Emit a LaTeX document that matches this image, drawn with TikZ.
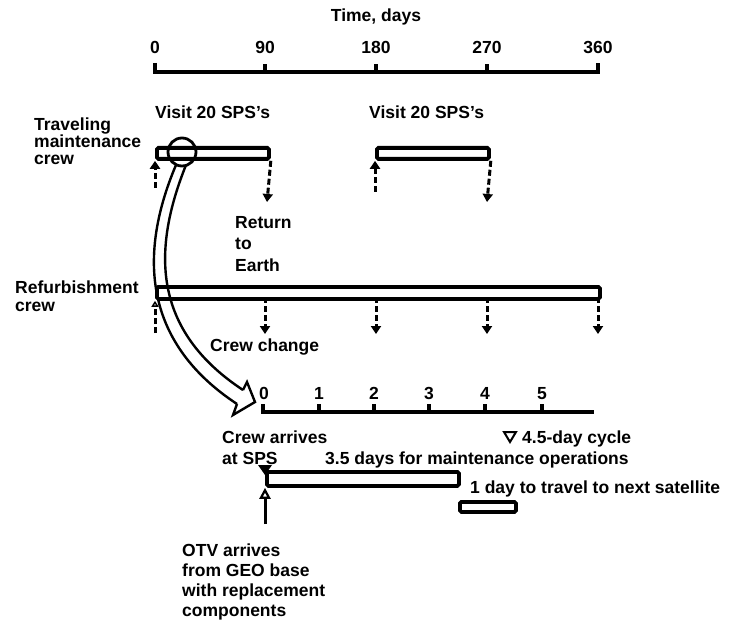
\documentclass[tikz,border=0pt]{standalone}
\usepackage{fontspec}
\setmainfont{Liberation Sans}
\usetikzlibrary{arrows.meta}
\tikzset{
 lbl/.style={font=\bfseries\fontsize{17.5}{19}\selectfont, inner sep=0pt, anchor=base west},
 lblc/.style={font=\bfseries\fontsize{17.5}{19}\selectfont, inner sep=0pt, anchor=base},
 bar/.style={draw, line width=3.8pt, rounded corners=1.5, inner sep=0pt, anchor=north west},
 dsh/.style={line width=3pt, dash pattern=on 6pt off 3pt},
 ax/.style={line width=3.2pt},
 tipf/.style={-{Triangle[length=8pt,width=10pt]}},
}
\begin{document}
\begin{tikzpicture}[x=1pt,y=-1pt]
\useasboundingbox (0,0) rectangle (738,628);
% top axis
\node[lblc] (tt) at (376,22) {Time, days};
\draw[ax] (155,63) -- (155,72) -- (598,72) -- (598,63);
\foreach \x in {265,376,487} \draw[ax] (\x,72) -- (\x,64);
\node[lblc] (a0) at (155,54) {0};
\node[lblc] (a90) at (265,54) {90};
\node[lblc] (a180) at (376,54) {180};
\node[lblc] (a270) at (487,54) {270};
\node[lblc] (a360) at (598,54) {360};
% traveling crew
\node[lbl] (tr1) at (34,131) {Traveling};
\node[lbl] (tr2) at (34,148) {maintenance};
\node[lbl] (tr3) at (34,165) {crew};
\node[lbl] (v1) at (155,119) {Visit 20 SPS's};
\node[lbl] (v2) at (369,119) {Visit 20 SPS's};
\node[bar, minimum width=112pt, minimum height=11pt] (t1) at (155,146) {};
\node[bar, minimum width=112pt, minimum height=11pt] (t2) at (375,146) {};
\coordinate (t1a) at (155,188);
\coordinate (t1b) at (267,202);
\coordinate (t2a) at (375,192);
\coordinate (t2b) at (487,202);
\draw[dsh, tipf] (t1a) -- (t1.south west);
\draw[dsh, tipf] (t1.south east) -- (t1b);
\draw[dsh, tipf] (t2a) -- (t2.south west);
\draw[dsh, tipf] (t2.south east) -- (t2b);
\node[lbl] (r1) at (235,229) {Return};
\node[lbl] (r2) at (235,250) {to};
\node[lbl] (r3) at (235,271) {Earth};
% refurbishment crew
\node[lbl] (rf1) at (15,293) {Refurbishment};
\node[lbl] (rf2) at (15,311) {crew};
\node[bar, minimum width=443pt, minimum height=12pt] (rb) at (155,285) {};
\foreach \x/\n in {265/a,376/b,487/c,598/d} {
  \coordinate (rb\n) at (\x,297);
  \coordinate (re\n) at (\x,334);
  \draw[dsh, tipf] (rb\n) -- (re\n);
}
\coordinate (rl) at (155,333);
\draw[dsh, -{Triangle[open,length=6pt,width=7pt,line width=1.5pt]}] (rl) -- (rb.south west);
\node[lbl] (cc) at (210,351) {Crew change};
% circle and hollow arrow
\node[draw, circle, line width=2.8pt, minimum size=28pt, inner sep=0pt] (c) at (182,152) {};
\coordinate (L0) at (176,165);
\coordinate (R0) at (186,165);
\coordinate (L1) at (237,404);
\coordinate (R1) at (243,390);
\draw[line width=2.4pt] (L0) .. controls (140,250) and (140,340) .. (L1);
\draw[line width=2.4pt] (R0) .. controls (152,250) and (152,330) .. (R1);
\draw[line width=2.4pt, line join=miter] (L1) -- (233,415) -- (255,402) -- (247,382) -- (R1);
% lower axis
\draw[ax] (263,404) -- (263,412) -- (594,412);
\foreach \x in {319,374,429,485,542} \draw[ax] (\x,412) -- (\x,404);
\node[lblc] (b0) at (264,399) {0};
\node[lblc] (b1) at (319,399) {1};
\node[lblc] (b2) at (374,399) {2};
\node[lblc] (b3) at (429,399) {3};
\node[lblc] (b4) at (485,399) {4};
\node[lblc] (b5) at (542,399) {5};
\node[lbl] (ca1) at (222,443) {Crew arrives};
\node[lbl] (ca2) at (222,464) {at SPS};
\draw[line width=2pt, line join=miter] (504,432) -- (516,432) -- (510,442) -- cycle;
\node[lbl] (cy) at (522,443) {4.5-day cycle};
\node[lbl] (mo) at (325,464) {3.5 days for maintenance operations};
\node[bar, minimum width=192pt, minimum height=14pt] (mb) at (265,470) {};
\fill (258,465) -- (272,465) -- (265,475) -- cycle;
\node[lbl] (tv) at (470,493) {1 day to travel to next satellite};
\node[bar, minimum width=56pt, minimum height=10pt] (sb) at (458,500) {};
\coordinate (otv) at (265,524);
\draw[line width=3pt, -{Triangle[open,length=11pt,width=11pt,line width=2.2pt]}] (otv) -- (mb.south west);
\node[lbl] (o1) at (182,556) {OTV arrives};
\node[lbl] (o2) at (182,576) {from GEO base};
\node[lbl] (o3) at (182,596) {with replacement};
\node[lbl] (o4) at (182,616) {components};
\end{tikzpicture}
\end{document}
